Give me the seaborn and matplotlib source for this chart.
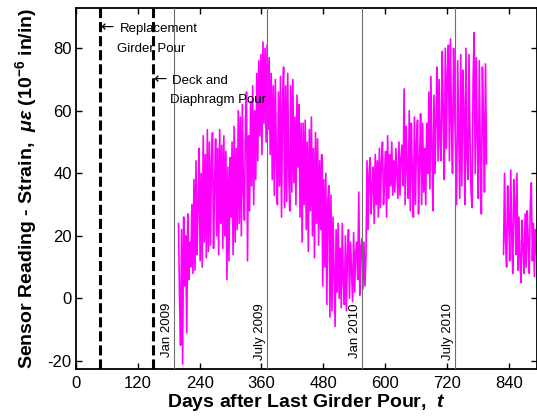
import numpy as np
import pandas as pd
import matplotlib
matplotlib.use("Agg")
import matplotlib.pyplot as plt
import seaborn as sns

# ---- data -------------------------------------------------------------
# Strain readings (microstrain), one every 2 days, two logging periods.
seg1_start, seg2_start, step = 199, 830, 2
strain_seg1 = [
    24, 0, -15, 22, -21, 26, 4, 20, -11, 27, 6, 18, 10, 30, 8,
    38, 9, 44, 14, 30, 48, 12, 40, 10, 52, 18, 46, 13, 54, 15,
    50, 17, 44, 53, 16, 36, 51, 20, 48, 14, 54, 24, 49, 16, 52,
    20, 47, 6, 42, 12, 45, 26, 50, 14, 55, 18, 48, 22, 60, 24,
    58, 20, 62, 34, 25, 57, 66, 12, 52, 28, 63, 36, 68, 30, 60,
    38, 72, 44, 76, 52, 78, 46, 82, 56, 80, 50, 81, 54, 77, 46,
    72, 38, 68, 33, 70, 44, 30, 66, 36, 71, 26, 62, 74, 29, 68,
    31, 72, 40, 28, 68, 34, 70, 37, 58, 30, 65, 42, 62, 26, 56,
    18, 56, 30, 57, 22, 50, 15, 54, 28, 58, 20, 48, 13, 53, 24,
    51, 17, 44, 22, 46, 4, 38, 10, 40, -2, 32, 36, -6, 33, -4,
    26, 8, -9, 22, 2, 24, 0, 16, -3, 24, 6, -2, 20, -4, 14,
    22, 0, 18, 8, -1, 21, 2, 15, 18, 6, 34, 1, 16, 19, 3,
    18, 4, 14, 44, 22, 40, 45, 27, 36, 42, 24, 46, 30, 44, 26,
    48, 29, 44, 50, 30, 38, 47, 26, 52, 32, 46, 36, 50, 33, 44,
    34, 48, 40, 32, 50, 33, 45, 49, 36, 67, 30, 55, 42, 32, 60,
    28, 56, 40, 26, 58, 30, 50, 57, 27, 44, 59, 30, 56, 34, 48,
    30, 56, 40, 66, 35, 71, 48, 28, 65, 40, 58, 74, 44, 70, 50,
    44, 79, 60, 38, 80, 48, 72, 81, 44, 83, 56, 40, 80, 62, 46,
    30, 76, 54, 32, 78, 36, 73, 60, 30, 80, 44, 38, 78, 50, 34,
    29, 70, 85, 40, 77, 52, 32, 76, 44, 27, 74, 58, 34, 75, 43,
]
strain_seg2 = [
    14, 40, 18, 10, 36, 26, 12,
    41, 20, 8, 38, 30, 14, 40, 9,
    26, 12, 5, 25, 16, 8, 27,
    10, 28, 18, 8, 30, 37,
    12, 24, 7, 22, 14,
]

pour_days = [47, 149]
pour_labels = [("Replacement", "Girder Pour"), ("Deck and", "Diaphragm Pour")]
month_days = [190, 371, 555, 736]
month_labels = ["Jan 2009", "July 2009", "Jan 2010", "July 2010"]
x_ticks = [0, 120, 240, 360, 480, 600, 720, 840]
y_ticks = [-20, 0, 20, 40, 60, 80]

days1 = seg1_start + step * np.arange(len(strain_seg1))
days2 = seg2_start + step * np.arange(len(strain_seg2))
df = pd.DataFrame({
    "day": np.concatenate([days1, days2]),
    "strain": strain_seg1 + strain_seg2,
    "segment": [1] * len(strain_seg1) + [2] * len(strain_seg2),
})

# ---- style ------------------------------------------------------------
sns.set_theme(style="ticks")
plt.rcParams["font.family"] = ["Liberation Sans", "DejaVu Sans"]
plt.rcParams["axes.unicode_minus"] = False
plt.rcParams["mathtext.fontset"] = "custom"
plt.rcParams["mathtext.rm"] = "Liberation Sans:bold"
plt.rcParams["mathtext.bf"] = "Liberation Sans:bold"
plt.rcParams["mathtext.it"] = "Liberation Sans:italic:bold"

W, H = 537, 418
fig = plt.figure(figsize=(W / 100, H / 100), dpi=100)
ax = fig.add_axes([76 / W, 1 - 369.3 / H, 461 / W, 361 / H])

sns.lineplot(data=df, x="day", y="strain", units="segment", estimator=None,
             color="#ff00ff", linewidth=1.2, ax=ax, legend=False, zorder=2)

for d in month_days:
    ax.axvline(d, color="#6e6e6e", lw=0.8, zorder=3)
for d in pour_days:
    ax.axvline(d, color="black", lw=2.2, ls=(0, (3.3, 1.3)), zorder=4)

# event annotations
txt = dict(fontsize=9.5, color="black", zorder=5)
arrow = dict(fontsize=11.5, color="black", zorder=5, family="DejaVu Sans")
ax.text(pour_days[0], 85.3, "\u2190", ha="left", va="baseline", **arrow)
ax.text(85, 85.3, pour_labels[0][0], ha="left", va="baseline", **txt)
ax.text(79.5, 78.9, pour_labels[0][1], ha="left", va="baseline", **txt)
ax.text(pour_days[1], 68.6, "\u2190", ha="left", va="baseline", **arrow)
ax.text(185.5, 68.6, pour_labels[1][0], ha="left", va="baseline", **txt)
ax.text(182.5, 62.4, pour_labels[1][1], ha="left", va="baseline", **txt)

for d, lab in zip(month_days, month_labels):
    ax.text(d - 2, -1.5, lab, rotation=90, ha="right", va="top", **txt)

ax.set_xlim(0, 895)
ax.set_ylim(-22.7, 92.8)
ax.set_xticks(x_ticks)
ax.set_yticks(y_ticks)
ax.tick_params(direction="in", length=4, width=1, top=True, right=True,
               labelsize=12, colors="black")
ax.tick_params(axis="x", pad=5)
ax.tick_params(axis="y", pad=3)
for s in ax.spines.values():
    s.set_linewidth(1.3)
    s.set_color("black")

ax.set_xlabel(r"Days after Last Girder Pour,  $t$", fontsize=14,
              fontweight="bold", color="black")
ax.set_ylabel(r"Sensor Reading - Strain,  $\mu\varepsilon$ (10$^{-6}$ in/in)",
              fontsize=14, fontweight="bold", color="black")
ax.xaxis.set_label_coords(0.5, -0.063)
ax.yaxis.set_label_coords(-0.081, 0.5)

fig.savefig("out.png", dpi=100)
